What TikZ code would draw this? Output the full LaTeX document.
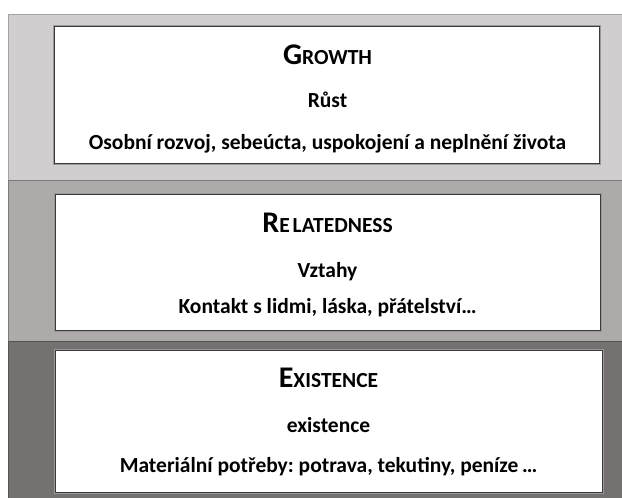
\documentclass[tikz,border=0pt]{standalone}
\usepackage{fontspec}
\setmainfont{Carlito}
\usetikzlibrary{calc}
\frenchspacing
\definecolor{fpasA}{HTML}{D0CECE}
\definecolor{spasA}{HTML}{A5A3A3}
\definecolor{fpasB}{HTML}{AEAAAA}
\definecolor{spasB}{HTML}{7E7A7A}
\definecolor{fpasC}{HTML}{767171}
\definecolor{spasC}{HTML}{575353}
\definecolor{sramec}{HTML}{3A3A3A}
\definecolor{stin}{HTML}{9A9898}
\newcommand{\nadpis}[2]{{\fontsize{30}{33}\selectfont #1}{\fontsize{21.5}{24}\selectfont\MakeUppercase{#2}}}
\tikzset{
  pas/.style={line width=1pt},
  ramec/.style={draw=sramec,fill=white,line width=1pt,inner sep=0pt,
    preaction={draw=stin,line width=3pt}},
  txt/.style={anchor=base,inner sep=0pt,font=\bfseries\fontsize{21.5}{24}\selectfont}
}

\begin{document}
\begin{tikzpicture}[x=1pt,y=-1pt]
\useasboundingbox (0,0) rectangle (622,498);
\clip (0,0) rectangle (622,498);
% pasy
\draw[pas,fill=fpasA,draw=spasA] (8,14) rectangle (640,180);
\draw[pas,fill=fpasB,draw=spasB] (8,180) rectangle (640,341);
\draw[pas,fill=fpasC,draw=spasC] (8,341) rectangle (640,510);
% ramce
\node[ramec,minimum width=545pt,minimum height=137pt] (rust) at (326.5,94.5) {};
\node[ramec,minimum width=545pt,minimum height=136pt] (vztahy) at (327.5,262) {};
\node[ramec,minimum width=547pt,minimum height=142pt] (exist) at (328.5,421) {};
% texty
\node[txt] (rust-a) at (327.5,64) {\nadpis{G}{rowth}};
\node[txt] (rust-b) at (327.5,107) {Růst};
\node[txt] (rust-c) at (327.5,149) {Osobní rozvoj, sebeúcta, uspokojení a neplnění života};
\node[txt] (vztahy-a) at (327.5,232) {\nadpis{R}{e\hspace{3pt}latedness}};
\node[txt] (vztahy-b) at (327.5,277) {Vztahy};
\node[txt] (vztahy-c) at (327.5,313) {Kontakt s lidmi, láska, přátelství…};
\node[txt] (exist-a) at (328.5,387) {\nadpis{E}{xistence}};
\node[txt] (exist-b) at (328.5,432) {existence};
\node[txt] (exist-c) at (328.5,472) {Materiální potřeby: potrava, tekutiny, peníze\,…};
\end{tikzpicture}
\end{document}
